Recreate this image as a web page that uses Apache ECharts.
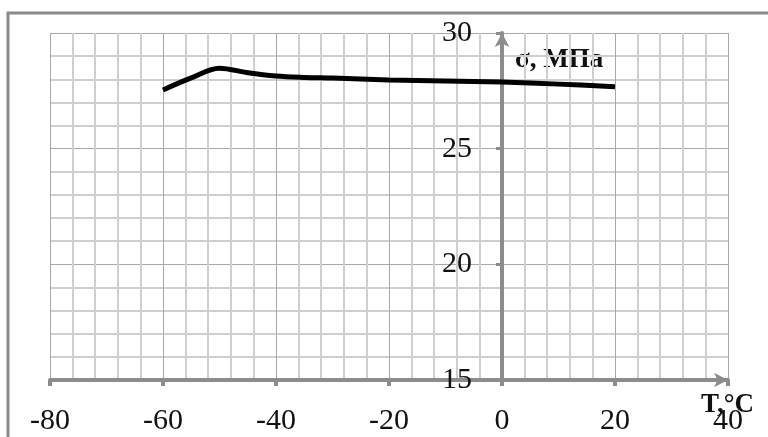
<!DOCTYPE html>
<html>
<head>
<meta charset="utf-8">
<script src="https://cdn.jsdelivr.net/npm/echarts@6/dist/echarts.min.js"></script>
<style>
  html, body { margin: 0; padding: 0; background: #fff; }
  #chart { width: 768px; height: 437px; }
</style>
</head>
<body>
<div id="chart"></div>
<script>
// температура, °C
const temps = [-60, -55, -50, -45, -40, -35, -30, -20, -10, 0, 10, 20];
// предел прочности, МПа
const sigma = [27.54, 28.06, 28.48, 28.28, 28.14, 28.08, 28.05, 27.97, 27.93, 27.88, 27.79, 27.68];

const xRange = [-80, 40];
const yRange = [15, 30];

const serif = '"Liberation Serif", "DejaVu Serif", serif';
const axisGray = '#8c8c8c';

const gridLeft = 50;
const gridRight = 40;

const myChart = echarts.init(document.getElementById('chart'));

const option = {
    backgroundColor: '#fff',
    animation: false,
    grid: {
        left: gridLeft,
        right: gridRight,
        top: 33,
        bottom: 57,
        containLabel: false,
        outerBoundsMode: 'none'
    },
    xAxis: {
        type: 'value',
        min: xRange[0],
        max: xRange[1],
        interval: 20,
        axisLine: {
            show: true,
            onZero: false,
            symbol: ['none', 'arrow'],
            symbolSize: [11, 14],
            lineStyle: { color: axisGray, width: 4 }
        },
        axisTick: {
            show: true,
            length: 6,
            lineStyle: { color: axisGray, width: 4 }
        },
        axisLabel: {
            margin: 26,
            fontFamily: serif,
            fontSize: 30,
            color: '#111'
        },
        splitLine: { show: true, lineStyle: { color: '#a8a8a8', width: 1 } },
        minorTick: { show: false, splitNumber: 5 },
        minorSplitLine: { show: true, lineStyle: { color: '#cfcfcf', width: 2 } }
    },
    yAxis: {
        type: 'value',
        min: yRange[0],
        max: yRange[1],
        interval: 5,
        offset: 0,
        axisLine: {
            show: true,
            onZero: false,
            symbol: ['none', 'arrow'],
            symbolSize: [11, 14],
            lineStyle: { color: axisGray, width: 4 }
        },
        axisTick: {
            show: true,
            length: 6,
            lineStyle: { color: axisGray, width: 3 }
        },
        axisLabel: {
            margin: 30,
            fontFamily: serif,
            fontSize: 30,
            color: '#111',
            verticalAlign: 'middle',
            padding: [0, 0, 6, 0]
        },
        splitLine: { show: true, lineStyle: { color: '#a8a8a8', width: 1 } },
        minorTick: { show: false, splitNumber: 5 },
        minorSplitLine: { show: true, lineStyle: { color: '#cfcfcf', width: 2 } }
    },
    series: [
        {
            type: 'line',
            data: temps.map((t, i) => [t, sigma[i]]),
            smooth: 0.35,
            showSymbol: false,
            lineStyle: { color: '#000', width: 5 },
            z: 5
        }
    ],
    graphic: [
        {
            type: 'rect',
            shape: { x: 8, y: 13, width: 800, height: 500 },
            style: { fill: 'none', stroke: '#8a8a8a', lineWidth: 3 },
            silent: true
        },
        {
            type: 'text',
            left: 515,
            top: 47,
            style: {
                text: 'σ, МПа',
                font: 'bold 27px ' + serif,
                fill: '#111'
            }
        },
        {
            type: 'text',
            left: 701,
            top: 392,
            style: {
                text: 'T,°C',
                font: 'bold 27px ' + serif,
                fill: '#111'
            }
        }
    ]
};

myChart.setOption(option, true);

// move the value axis (line, ticks, labels) to T = 0 using the x scale
const zeroPx = myChart.convertToPixel({ xAxisIndex: 0 }, 0);
myChart.setOption({ yAxis: { offset: -(zeroPx - gridLeft) } });
</script>
</body>
</html>
